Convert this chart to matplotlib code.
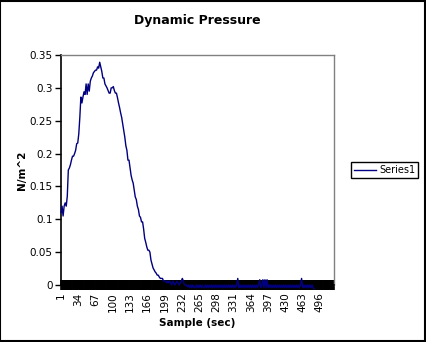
import numpy as np
import matplotlib
matplotlib.use("Agg")
import matplotlib.pyplot as plt
from matplotlib.patches import Rectangle

# dynamic pressure readings, every second sample (N/m^2)
rise = [0.11, 0.12, 0.105, 0.12, 0.125, 0.12, 0.135, 0.175, 0.178, 0.183,
        0.19, 0.196, 0.196, 0.2, 0.205, 0.215, 0.216, 0.23, 0.255, 0.286,
        0.277, 0.286, 0.294, 0.29, 0.306, 0.29, 0.306, 0.295, 0.31, 0.315,
        0.318, 0.323, 0.325, 0.327, 0.327, 0.332, 0.33, 0.339, 0.332, 0.325]
fall = [0.315, 0.315, 0.306, 0.303, 0.3, 0.296, 0.292, 0.292, 0.3, 0.3,
        0.302, 0.296, 0.292, 0.292, 0.285, 0.277, 0.27, 0.262, 0.255, 0.245,
        0.236, 0.225, 0.212, 0.205, 0.19, 0.19, 0.178, 0.167, 0.16, 0.155,
        0.145, 0.134, 0.13, 0.12, 0.115, 0.105, 0.103, 0.096, 0.096, 0.085,
        0.071, 0.065, 0.058, 0.053, 0.053, 0.05, 0.038, 0.032, 0.026, 0.023,
        0.02, 0.018, 0.015, 0.015, 0.012, 0.01, 0.01, 0.01, 0.006, 0.006,
        0.006, 0.003, 0.006, 0.003, 0.006, 0.003, 0.0, 0.006, 0.003, 0.0,
        0.003, 0.006, 0.003, 0.0, 0.003, 0.006, 0.01, 0.006, 0.0, 0.0,
        0.0, -0.003]
tail = [0.0, -0.004, 0.0, -0.004, 0.0, -0.004, -0.004, 0.0, -0.004, 0.0,
        -0.004, 0.0, -0.004, 0.0, -0.004, -0.004, 0.0, -0.004, 0.0, -0.004,
        0.0, -0.004, 0.0, -0.004, 0.0, -0.004, 0.0, -0.004, 0.0, -0.004,
        0.0, -0.004, 0.0, -0.004, 0.0, -0.004, 0.0, -0.004, 0.0, -0.004,
        0.0, -0.004, 0.0, -0.004, 0.0, -0.004, 0.0, 0.01, -0.004, 0.0,
        -0.004, 0.0, -0.004, 0.0, -0.004, 0.0, -0.004, 0.0, -0.004, 0.0,
        -0.004, 0.0, -0.004, 0.0, -0.004, 0.0, -0.004, 0.0, 0.008, -0.004,
        0.0, 0.008, -0.004, 0.008, -0.004, 0.008, -0.004, 0.0, -0.004, 0.0,
        -0.004, 0.0, -0.004, 0.0, -0.004, 0.0, -0.004, 0.0, -0.004, 0.0,
        -0.004, 0.0, -0.004, 0.0, -0.004, 0.0, -0.004, 0.0, -0.004, 0.0,
        -0.004, 0.0, -0.004, 0.0, -0.004, 0.0, -0.004, 0.0, 0.01, -0.004,
        0.0, -0.004, 0.0, -0.004, 0.0, -0.004, 0.0, -0.004, 0.0, -0.004,
        -0.006]
pressure = rise + fall + tail
sample = 1 + 2 * np.arange(len(pressure))

n_categories = 523
xtick_labels = list(range(1, 497, 33))
yticks = [0, 0.05, 0.1, 0.15, 0.2, 0.25, 0.3, 0.35]
ytick_labels = ["0", "0.05", "0.1", "0.15", "0.2", "0.25", "0.3", "0.35"]

fig = plt.figure(figsize=(4.26, 3.42), dpi=100)
fig.patch.set_facecolor("white")
ax = fig.add_axes([61 / 426, 1 - 285 / 342, 273 / 426, 230 / 342])

line, = ax.plot(sample, pressure, color="#000080", lw=1.0, clip_on=False,
                label="Series1", zorder=3)

ax.set_xlim(1, n_categories)
ax.set_ylim(0, 0.35)
ax.set_yticks(yticks)
ax.set_yticklabels(ytick_labels, fontsize=7.5)
ax.set_xticks(xtick_labels)
ax.set_xticklabels([str(v) for v in xtick_labels], rotation=90, fontsize=7.5)
ax.set_xticks(np.arange(1, n_categories + 1), minor=True)
ax.tick_params(axis="x", which="both", direction="inout", length=6.5,
               width=1.2, color="black", pad=2)
ax.tick_params(axis="y", direction="out", length=4, width=1, pad=2)

for side in ("top", "right"):
    ax.spines[side].set_color("#808080")
    ax.spines[side].set_linewidth(1.0)
ax.spines["left"].set_linewidth(1.2)
ax.spines["bottom"].set_linewidth(1.2)

ax.set_title("Dynamic Pressure", fontsize=9, fontweight="bold", pad=22)
ax.set_xlabel("Sample (sec)", fontsize=7.5, fontweight="bold", labelpad=4)
ax.set_ylabel("N/m^2", fontsize=7.5, fontweight="bold", labelpad=2)

leg = fig.legend(handles=[line], loc="center",
                 bbox_to_anchor=(384.5 / 426, 1 - 170 / 342),
                 fontsize=7, fancybox=False, framealpha=1,
                 edgecolor="black", borderpad=0.3, handlelength=2.3,
                 handletextpad=0.3)
leg.get_frame().set_linewidth(1.0)

fig.patches.append(Rectangle((0.001, 0.002), 0.997, 0.995, transform=fig.transFigure,
                             fill=False, edgecolor="black", lw=1.5))

fig.savefig("out.png", dpi=100)
